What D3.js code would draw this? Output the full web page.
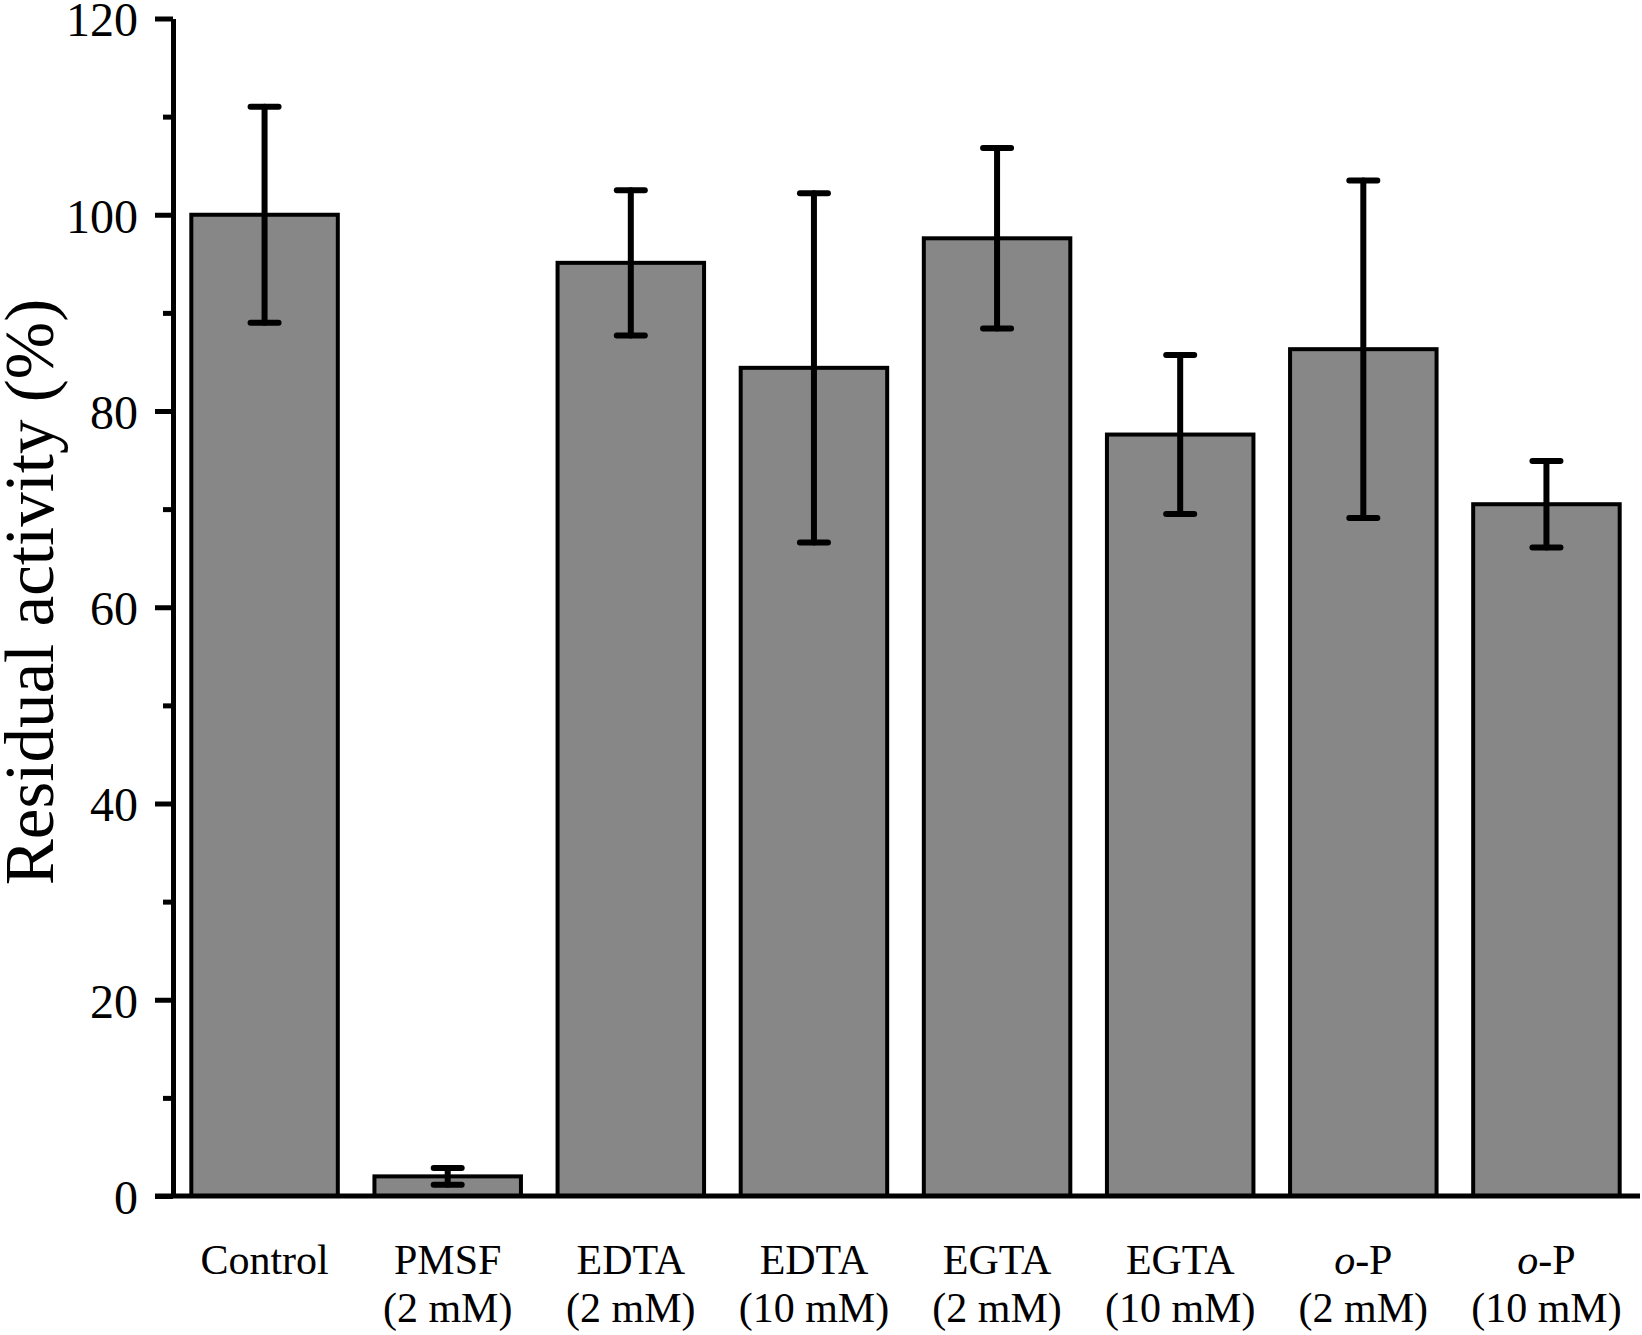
<!DOCTYPE html>
<html>
<head>
    <meta charset="UTF-8">
    <title>Residual activity</title>
    <script src="https://d3js.org/d3.v7.min.js"></script>
    <style>
        body { margin: 0; background: #fff; }
        svg { display: block; }
        .bar { fill: #878787; stroke: #000; stroke-width: 4px; }
        .err { stroke: #000; stroke-width: 6px; stroke-linecap: round; }
        .axis text { font-family: "Liberation Serif", "Times New Roman", serif; font-size: 48px; fill: #000; }
        .axis line, .axis path { stroke: #000; stroke-width: 5px; }
        .xlab { font-family: "Liberation Serif", "Times New Roman", serif; font-size: 42px; text-anchor: middle; }
        .ytitle { font-family: "Liberation Serif", "Times New Roman", serif; font-size: 69px; text-anchor: middle; }
    </style>
</head>
<body>
<script>
    const names = ["Control", "PMSF", "EDTA", "EDTA", "EGTA", "EGTA", "o-P", "o-P"];
    const doses = ["", "(2 mM)", "(2 mM)", "(10 mM)", "(2 mM)", "(10 mM)", "(2 mM)", "(10 mM)"];
    const values = [100, 2.0, 95.1, 84.4, 97.6, 77.6, 86.3, 70.5];
    const errors = [11, 0.85, 7.4, 17.8, 9.2, 8.1, 17.2, 4.4];
    const majorTicks = [0, 20, 40, 60, 80, 100, 120];
    const minorTicks = [10, 30, 50, 70, 90, 110];

    const width = 1642;
    const height = 1335;
    const plotLeft = 173;
    const plotRight = 1638;
    const plotTop = 18.5;
    const plotBottom = 1196;

    const data = values.map((v, i) => ({ id: i, name: names[i], dose: doses[i], value: v, err: errors[i] }));

    const svg = d3.select('body')
        .append('svg')
        .attr('width', width)
        .attr('height', height);

    const x = d3.scaleBand()
        .domain(data.map(d => d.id))
        .range([plotLeft, plotRight])
        .paddingInner(0.2)
        .paddingOuter(0.1);

    const y = d3.scaleLinear()
        .domain([0, 120])
        .range([plotBottom, plotTop]);

    // bars
    svg.selectAll('.bar')
        .data(data)
        .enter()
        .append('rect')
        .attr('class', 'bar')
        .attr('x', d => x(d.id))
        .attr('y', d => y(d.value))
        .attr('width', x.bandwidth())
        .attr('height', d => y(0) - y(d.value));

    // error bars
    const capW = 14;
    const eb = svg.selectAll('.eb')
        .data(data)
        .enter()
        .append('g')
        .attr('class', 'eb')
        .attr('transform', d => `translate(${x(d.id) + x.bandwidth() / 2},0)`);
    eb.append('line').attr('class', 'err')
        .attr('x1', 0).attr('x2', 0)
        .attr('y1', d => y(d.value + d.err))
        .attr('y2', d => y(d.value - d.err));
    eb.append('line').attr('class', 'err')
        .attr('x1', -capW).attr('x2', capW)
        .attr('y1', d => y(d.value + d.err))
        .attr('y2', d => y(d.value + d.err));
    eb.append('line').attr('class', 'err')
        .attr('x1', -capW).attr('x2', capW)
        .attr('y1', d => y(d.value - d.err))
        .attr('y2', d => y(d.value - d.err));

    // y axis
    const yAxis = svg.append('g')
        .attr('class', 'axis')
        .attr('transform', `translate(${plotLeft},0)`)
        .call(d3.axisLeft(y).tickValues(majorTicks).tickSize(18).tickSizeOuter(0).tickPadding(17).tickFormat(d3.format('d')));
    yAxis.selectAll('.tick text').attr('dy', '0.36em');

    svg.append('g')
        .attr('class', 'axis')
        .attr('transform', `translate(${plotLeft},0)`)
        .call(d3.axisLeft(y).tickValues(minorTicks).tickSize(10).tickSizeOuter(0).tickFormat(''))
        .select('.domain').remove();

    // x axis line
    svg.append('line')
        .attr('x1', plotLeft - 18)
        .attr('x2', plotRight + 2)
        .attr('y1', y(0))
        .attr('y2', y(0))
        .attr('stroke', '#000')
        .attr('stroke-width', 5);

    // x labels
    const lab = svg.selectAll('.xlab')
        .data(data)
        .enter()
        .append('text')
        .attr('class', 'xlab')
        .attr('x', d => x(d.id) + x.bandwidth() / 2)
        .attr('y', 1274);
    lab.each(function(d) {
        const t = d3.select(this);
        if (d.name.startsWith('o-')) {
            t.append('tspan').style('font-style', 'italic').text('o');
            t.append('tspan').text(d.name.slice(1));
        } else {
            t.text(d.name);
        }
    });

    svg.selectAll('.xdose')
        .data(data.filter(d => d.dose))
        .enter()
        .append('text')
        .attr('class', 'xlab')
        .attr('x', d => x(d.id) + x.bandwidth() / 2)
        .attr('y', 1322)
        .text(d => d.dose);

    // y title
    svg.append('text')
        .attr('class', 'ytitle')
        .attr('transform', `translate(53, 592) rotate(-90)`)
        .text('Residual activity (%)');
</script>
</body>
</html>
